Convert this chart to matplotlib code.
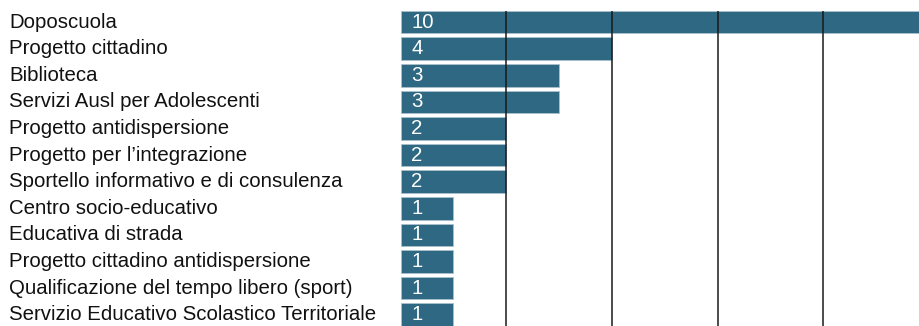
import matplotlib.pyplot as plt
import matplotlib.transforms as mtransforms

servizi = [
    'Doposcuola',
    'Progetto cittadino',
    'Biblioteca',
    'Servizi Ausl per Adolescenti',
    'Progetto antidispersione',
    'Progetto per l\u2019integrazione',
    'Sportello informativo e di consulenza',
    'Centro socio-educativo',
    'Educativa di strada',
    'Progetto cittadino antidispersione',
    'Qualificazione del tempo libero (sport)',
    'Servizio Educativo Scolastico Territoriale',
]
conteggi = [10, 4, 3, 3, 2, 2, 2, 1, 1, 1, 1, 1]
griglia = [2, 4, 6, 8]

BAR_COLOR = '#2e6882'
FONT = 'Liberation Sans'
SIZE = 14.7

fig = plt.figure(figsize=(9.19, 3.26), dpi=100)
ax = fig.add_axes([400.5 / 919, 0, 518.5 / 919, 1 - 10.7 / 326])

pos = list(range(len(servizi)))
ax.barh(pos, conteggi, height=0.85, color=BAR_COLOR,
        edgecolor='#a9c1cd', linewidth=0.6, zorder=1)

# vertical reference lines drawn above the bars
for g in griglia:
    ax.axvline(g, color='#1a1a1a', linewidth=1.1, zorder=3)

# value inside each bar
for i, n in enumerate(conteggi):
    ax.text(0.2, i, str(n), color='white', fontsize=SIZE, family=FONT,
            va='center', ha='left', zorder=4)

ax.set_xlim(0, 518.5 / 52.85)
ax.set_ylim(len(servizi) - 1 + 0.425, -0.425)
ax.set_xticks([])
ax.set_yticks([])
for s in ax.spines.values():
    s.set_visible(False)

# category labels at the left edge of the figure
trans = mtransforms.blended_transform_factory(fig.transFigure, ax.transData)
for i, nome in enumerate(servizi):
    fig.text(9 / 919, i, nome, fontsize=SIZE, family=FONT,
             va='center', ha='left', transform=trans, color='#111111')

fig.savefig('out.png', dpi=100)
